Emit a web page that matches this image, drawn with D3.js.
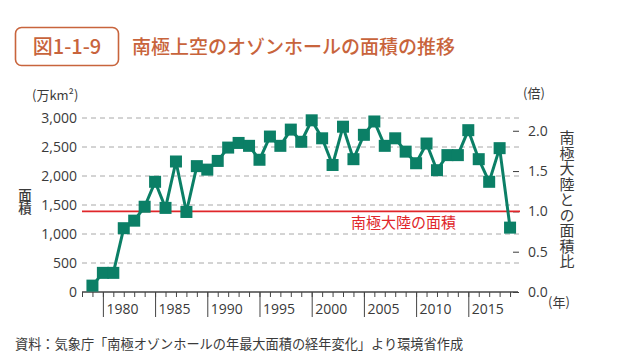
<!DOCTYPE html>
<html>
<head>
<meta charset="utf-8">
<script src="https://cdn.jsdelivr.net/npm/d3@7"></script>
<style>
  body { margin: 0; background: #fff; }
  svg { display: block; font-family: "Noto Sans CJK JP", "Noto Sans", sans-serif; }
</style>
</head>
<body>
<div id="chart"></div>
<script>
// 南極上空のオゾンホールの面積 (万km²), 1979-2019
const years = d3.range(1979, 2020);
const areas = [
    110, 330, 330, 1100, 1230, 1470, 1900, 1450, 2250, 1380,
    2170, 2110, 2260, 2490, 2570, 2520, 2280, 2680, 2520, 2800,
    2590, 2960, 2650, 2190, 2850, 2290, 2710, 2940, 2520, 2650,
    2420, 2220, 2560, 2100, 2360, 2360, 2790, 2290, 1900, 2480,
    1110
];
const antarcticArea = 1390; // 南極大陸の面積
const leftTicks = [0, 500, 1000, 1500, 2000, 2500, 3000];
const rightTicks = [0, 0.5, 1.0, 1.5, 2.0];
const majorYears = [1980, 1985, 1990, 1995, 2000, 2005, 2010, 2015];

const W = 623, H = 364;
const green = "#0b7f66", red = "#e0262a", brown = "#c8643c", txt = "#3a3a3a";

const svg = d3.select("#chart").append("svg")
    .attr("width", W).attr("height", H);

// タイトル
svg.append("rect")
    .attr("x", 15.5).attr("y", 27.5).attr("width", 103).attr("height", 38)
    .attr("rx", 6)
    .attr("fill", "none").attr("stroke", brown).attr("stroke-width", 1.6);
svg.append("text")
    .attr("x", 67).attr("y", 54)
    .attr("text-anchor", "middle")
    .attr("fill", brown).attr("font-size", 20).attr("font-weight", 500)
    .text("図1-1-9");
svg.append("text")
    .attr("x", 132).attr("y", 54)
    .attr("fill", brown).attr("font-size", 19).attr("font-weight", 500)
    .text("南極上空のオゾンホールの面積の推移");

// スケール
const x = d3.scaleLinear().domain([1978, 2020]).range([82, 520.5]);
const y = d3.scaleLinear().domain([0, 3000]).range([292, 118]);
const yr = d3.scaleLinear().domain([0, 3000 / antarcticArea]).range([292, 118]);

// グリッド
svg.append("g")
    .selectAll("line")
    .data(leftTicks.filter(d => d > 0))
    .join("line")
    .attr("x1", 82).attr("x2", 520)
    .attr("y1", d => y(d)).attr("y2", d => y(d))
    .attr("stroke", "#a8a8a8").attr("stroke-width", 1)
    .attr("stroke-dasharray", "5,4");

// 左軸
const leftAxis = svg.append("g")
    .attr("transform", "translate(82,0)")
    .call(d3.axisLeft(y).tickValues(leftTicks).tickSize(0).tickPadding(5).tickFormat(d3.format(",")));
leftAxis.select(".domain").remove();
leftAxis.selectAll("text")
    .attr("font-size", 14).attr("fill", txt)
    .attr("font-family", "'Open Sans', 'Noto Sans', sans-serif");

// 右軸
const rightAxis = svg.append("g")
    .attr("transform", "translate(520,0)")
    .call(d3.axisRight(yr).tickValues(rightTicks).tickSize(0).tickPadding(8).tickFormat(d3.format(".1f")));
rightAxis.select(".domain").remove();
rightAxis.selectAll("text")
    .attr("font-size", 14).attr("fill", txt)
    .attr("font-family", "'Open Sans', 'Noto Sans', sans-serif");
rightAxis.selectAll(".tick line").remove();
rightAxis.selectAll(".tick")
    .append("line")
    .attr("x1", -7).attr("x2", -1)
    .attr("stroke", txt).attr("stroke-width", 1);

// 南極大陸の面積
svg.append("line")
    .attr("x1", 82).attr("x2", 520)
    .attr("y1", y(antarcticArea)).attr("y2", y(antarcticArea))
    .attr("stroke", red).attr("stroke-width", 1.6);
svg.append("text")
    .attr("x", 351).attr("y", 228)
    .attr("fill", red).attr("font-size", 15)
    .text("南極大陸の面積");

// 下軸
const bottom = svg.append("g").attr("transform", "translate(0,292)");
bottom.append("line")
    .attr("x1", 82).attr("x2", 518)
    .attr("stroke", "#444").attr("stroke-width", 1.3);
bottom.append("g")
    .call(d3.axisBottom(x).tickValues(d3.range(1978, 2020)).tickSize(5).tickFormat(""))
    .call(g => g.select(".domain").remove())
    .selectAll("line").attr("stroke", "#444");
const major = bottom.append("g")
    .call(d3.axisBottom(x).tickValues(majorYears).tickSize(25).tickFormat(d => d));
major.select(".domain").remove();
major.selectAll("line").attr("stroke", "#444");
major.selectAll("text")
    .attr("text-anchor", "start")
    .attr("x", 3).attr("y", 12).attr("dy", "0.71em")
    .attr("font-size", 14).attr("fill", txt)
    .attr("font-family", "'Open Sans', 'Noto Sans', sans-serif");

// 軸ラベル
svg.append("text")
    .attr("x", 32).attr("y", 100)
    .attr("fill", txt).attr("font-size", 13)
    .text("(万km²)");
svg.append("text")
    .attr("x", 523).attr("y", 98)
    .attr("fill", txt).attr("font-size", 13)
    .text("(倍)");
svg.append("text")
    .attr("x", 548).attr("y", 307)
    .attr("fill", txt).attr("font-size", 13)
    .text("(年)");
svg.append("text")
    .attr("x", 25).attr("y", 188)
    .attr("fill", txt).attr("font-size", 13.5).attr("font-weight", 500)
    .attr("writing-mode", "vertical-rl")
    .text("面積");
svg.append("text")
    .attr("x", 567).attr("y", 130)
    .attr("fill", txt).attr("font-size", 15)
    .attr("writing-mode", "vertical-rl")
    .attr("letter-spacing", 0.5)
    .text("南極大陸との面積比");

// データ
const line = d3.line()
    .x((d, i) => x(years[i]))
    .y(d => y(d));
svg.append("path")
    .datum(areas)
    .attr("fill", "none")
    .attr("stroke", green)
    .attr("stroke-width", 3)
    .attr("stroke-linejoin", "round")
    .attr("d", line);
const ms = 12;
svg.append("g")
    .selectAll("rect")
    .data(areas)
    .join("rect")
    .attr("x", (d, i) => x(years[i]) - ms / 2)
    .attr("y", d => y(d) - ms / 2)
    .attr("width", ms).attr("height", ms)
    .attr("fill", green);

// 出典
svg.append("text")
    .attr("x", 15).attr("y", 349)
    .attr("fill", txt).attr("font-size", 13.2)
    .text("資料：気象庁「南極オゾンホールの年最大面積の経年変化」より環境省作成");
</script>
</body>
</html>
